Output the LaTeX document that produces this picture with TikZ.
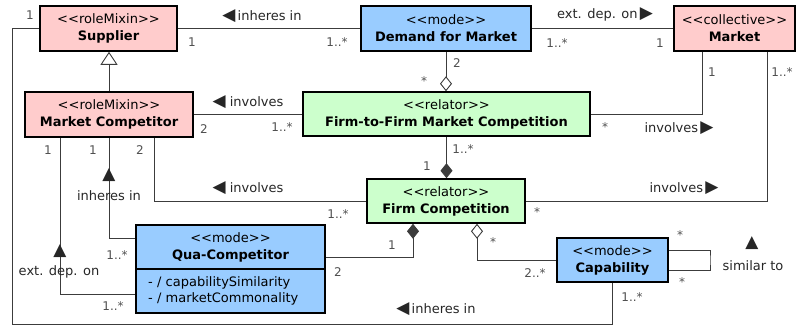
\documentclass[tikz,border=0pt]{standalone}
\usepackage{fontspec}
\setmainfont{DejaVu Sans}[Ligatures=TeXOff]
\usepackage{tikz}
\usetikzlibrary{arrows.meta}

\definecolor{rolepink}{HTML}{FFCCCC}
\definecolor{modeblue}{HTML}{99CCFF}
\definecolor{relgreen}{HTML}{CCFFCC}
\definecolor{linegray}{HTML}{3C3C3C}
\definecolor{multgray}{HTML}{505050}

\newcommand{\dirleft}{{\fontsize{17}{17}\selectfont ◀}}
\newcommand{\dirright}{{\fontsize{17}{17}\selectfont ▶}}
\newcommand{\dirup}{{\fontsize{17}{17}\selectfont ▲}}

\begin{document}
\begin{tikzpicture}[x=1pt, y=-1pt,
        umlclass/.style={rectangle, draw=black, line width=1.6pt, align=center, inner sep=0pt, font=\fontsize{13}{17}\selectfont},
        assoc/.style={draw=linegray, line width=0.9pt},
        mult/.style={text=multgray, inner sep=0pt, font=\fontsize{12}{12}\selectfont},
        rolename/.style={text=black!85, inner sep=0pt, font=\fontsize{13}{13}\selectfont}]
        \useasboundingbox (0, 0) rectangle (796, 326);

        % Nodes
        \node[umlclass, fill=rolepink, minimum width=137pt, minimum height=45pt] (supplier) at (108.5, 28.5) {<<roleMixin>>\\\textbf{Supplier}};
        \node[umlclass, fill=modeblue, minimum width=170pt, minimum height=45pt] (demand) at (446, 28.5) {<<mode>>\\\textbf{Demand for Market}};
        \node[umlclass, fill=rolepink, minimum width=121pt, minimum height=45pt] (market) at (734.5, 28.5) {<<collective>>\\\textbf{Market}};
        \node[umlclass, fill=rolepink, minimum width=168pt, minimum height=45pt] (mc) at (109, 114.5) {<<roleMixin>>\\\textbf{Market Competitor}};
        \node[umlclass, fill=relgreen, minimum width=287pt, minimum height=44pt] (ftf) at (446.5, 114) {<<relator>>\\\textbf{Firm-to-Firm Market Competition}};
        \node[umlclass, fill=relgreen, minimum width=158pt, minimum height=44pt] (fc) at (446, 201) {<<relator>>\\\textbf{Firm Competition}};
        \node[umlclass, fill=modeblue, minimum width=189pt, minimum height=44pt] (qc) at (230.5, 247) {<<mode>>\\\textbf{Qua-Competitor}};
        \node[umlclass, fill=modeblue, align=left, text width=165pt, inner xsep=12pt, minimum height=44pt, font=\fontsize{13}{16}\selectfont] (qcattr) at (230.5, 291) {- / capabilitySimilarity\\- / marketCommonality};
        \node[umlclass, fill=modeblue, minimum width=111pt, minimum height=44pt] (cap) at (612.5, 260) {<<mode>>\\\textbf{Capability}};

        % Edges
        \draw[assoc] (supplier.east) -- (demand.west);
        \draw[assoc] (demand.east) -- (market.west);
        \coordinate (sw) at (12, 324);
        \draw[assoc] (supplier.west) -| (sw) -| (cap.south);
        \draw[assoc, -{Triangle[open, length=13pt, width=17pt]}] (mc.north) -- (mc.north |- supplier.south);
        \draw[assoc, -{Diamond[open, length=15pt, width=12pt]}] (demand.south) -- (demand.south |- ftf.north);
        \draw[assoc] (mc.east) -- (mc.east -| ftf.west);
        \draw[assoc] ([xshift=-32.5pt]market.south) |- (ftf.east);
        \draw[assoc] ([xshift=33pt]market.south) |- (fc.east);
        \draw[assoc, -{Diamond[length=15pt, width=12pt]}] (ftf.south) -- (ftf.south |- fc.north);
        \draw[assoc] ([xshift=45.5pt]mc.south) |- (fc.west);
        \draw[assoc] (mc.south) |- ([yshift=9pt]qc.west);
        \draw[assoc] ([xshift=-49pt]mc.south) |- ([yshift=-3pt]qcattr.west);
        \draw[assoc, -{Diamond[length=15pt, width=12pt]}] ([yshift=-10pt]qc.east) -| ([xshift=-33pt]fc.south);
        \draw[assoc, -{Diamond[open, length=15pt, width=12pt]}] (cap.west) -| ([xshift=31pt]fc.south);
        \coordinate (simloop) at (710, 260);
        \draw[assoc] ([yshift=10pt]cap.east) -| (simloop) |- ([yshift=-10pt]cap.east);

        % Labels
        \node[rolename] (inhsup) at (262, 16) {\dirleft\,inheres in};
        \node[rolename] (extmarket) at (605, 14) {ext. dep. on\,\dirright};
        \node[rolename] (invftf) at (248, 102) {\dirleft\ involves};
        \node[rolename] (invmkftf) at (679, 128) {involves\,\dirright};
        \node[rolename] (invmkfc) at (684, 188) {involves\,\dirright};
        \node[rolename] (invfc) at (248, 188) {\dirleft\ involves};
        \node[rolename] (inhqctri) at (109, 175) {\dirup};
        \node[rolename] (inhqc) at (109, 196) {inheres in};
        \node[rolename] (extqctri) at (60, 251) {\dirup};
        \node[rolename] (extqc) at (59, 272) {ext. dep. on};
        \node[rolename] (inhcap) at (436, 309) {\dirleft\,inheres in};
        \node[rolename] (simtri) at (752, 243) {\dirup};
        \node[rolename] (simcap) at (753, 266) {similar to};

        % Multiplicities
        \node[mult] (m1) at (30, 15) {1};
        \node[mult] (m2) at (192, 42) {1};
        \node[mult] (m3) at (337, 42) {1..*};
        \node[mult] (m4) at (557, 43) {1..*};
        \node[mult] (m5) at (660, 43) {1};
        \node[mult] (m6) at (712, 72) {1};
        \node[mult] (m7) at (782, 72) {1..*};
        \node[mult] (m8) at (457, 63) {2};
        \node[mult] (m9) at (424, 81) {*};
        \node[mult] (m10) at (204, 129) {2};
        \node[mult] (m11) at (282, 127) {1..*};
        \node[mult] (m12) at (605, 127) {*};
        \node[mult] (m13) at (463, 149) {1..*};
        \node[mult] (m14) at (427, 166) {1};
        \node[mult] (m15) at (537, 212) {*};
        \node[mult] (m16) at (338, 214) {1..*};
        \node[mult] (m17) at (48, 150) {1};
        \node[mult] (m18) at (93, 150) {1};
        \node[mult] (m19) at (140, 150) {2};
        \node[mult] (m20) at (117, 255) {1..*};
        \node[mult] (m21) at (113, 306) {1..*};
        \node[mult] (m22) at (338, 272) {2};
        \node[mult] (m23) at (392, 245) {1};
        \node[mult] (m24) at (493, 242) {*};
        \node[mult] (m25) at (535, 273) {2..*};
        \node[mult] (m26) at (680, 235) {*};
        \node[mult] (m27) at (682, 282) {*};
        \node[mult] (m28) at (632, 297) {1..*};
    \end{tikzpicture}
\end{document}
